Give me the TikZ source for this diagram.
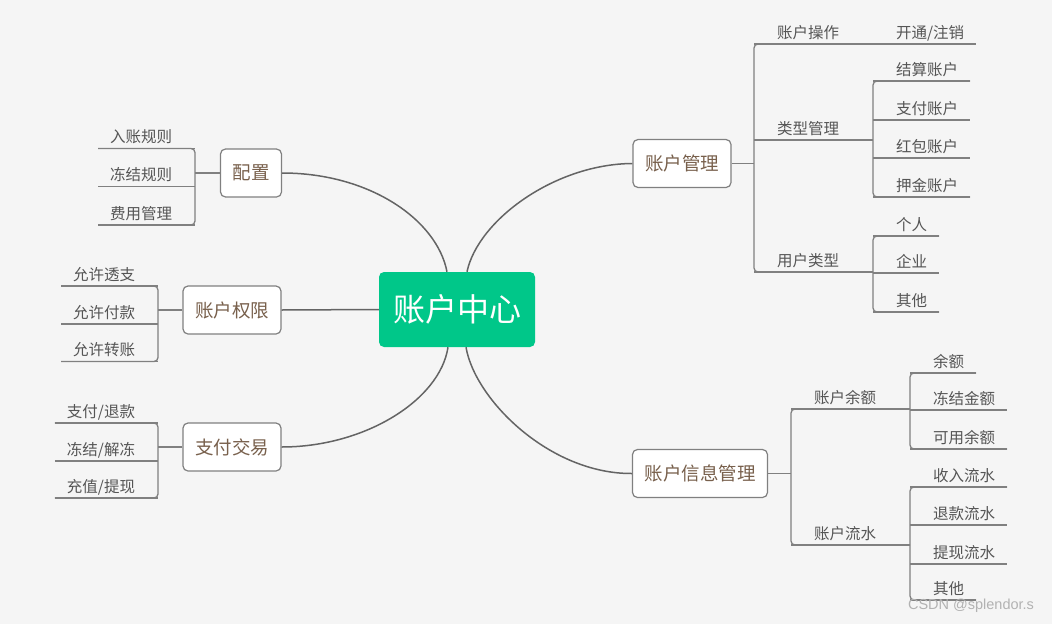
\documentclass[tikz,border=0pt]{standalone}
\usepackage{fontspec}
\setmainfont{Noto Sans CJK SC}
\newfontfamily\markfont{Liberation Sans}
\usepackage{xcolor}
\usepackage{tikz}
\definecolor{bgpaper}{RGB}{245,245,245}
\definecolor{hubgreen}{RGB}{0,199,137}
\definecolor{topicbrown}{RGB}{120,96,76}
\definecolor{leafgray}{RGB}{85,85,85}
\definecolor{stemgray}{RGB}{128,128,128}
\definecolor{curvegray}{RGB}{100,100,100}

\begin{document}
\begin{tikzpicture}[x=1pt, y=-1pt]

    % --- 1. Background (light grey paper) ---
    \fill[bgpaper] (0,0) rectangle (1052,624);
    \useasboundingbox (0,0) rectangle (1052,624);

    % --- 2. Hub and main topics ---
    \tikzset{hub/.style={fill=hubgreen, rounded corners=5pt, text=white, font=\fontsize{32}{36}\selectfont, minimum width=156pt, minimum height=75pt}}
    \tikzset{topic/.style={draw=stemgray, line width=1.2pt, fill=white, rounded corners=5pt, text=topicbrown, font=\fontsize{18.5}{21}\selectfont, inner xsep=12pt, minimum height=48pt}}
    \node[hub] (n-hub) at (457,309.5) {账户中心};
    \node[topic] (n-config) at (251,173) {配置};
    \node[topic] (n-perm) at (232,310) {账户权限};
    \node[topic] (n-trade) at (232,447) {支付交易};
    \node[topic] (n-acc) at (682,163.5) {账户管理};
    \node[topic] (n-info) at (700,473.5) {账户信息管理};

    % --- 3. Branches from the hub (grey curves) ---
    \tikzset{branch/.style={curvegray, line width=1.5pt}}
    \draw[branch] (n-config.east) .. controls (370,173) and (437,220) .. ([xshift=-10pt]n-hub.north);
    \draw[branch] (n-acc.west) .. controls (555,164) and (478,220) .. ([xshift=10pt]n-hub.north);
    \draw[branch] (n-perm.east) -- (n-hub.west);
    \draw[branch] (n-trade.east) .. controls (365,447) and (440,400) .. ([xshift=-9pt]n-hub.south);
    \draw[branch] (n-info.west) .. controls (550,474) and (475,400) .. ([xshift=9pt]n-hub.south);

    % --- 4. Leaves (text sitting on an underline, wider gap on the bracket side) ---
    \tikzset{leaf/.style={font=\fontsize{15.5}{18}\selectfont, text=leafgray, inner xsep=12pt, inner ysep=4pt, text height=12pt, text depth=2pt, outer sep=0pt},
             leafL/.style={leaf, anchor=south east, execute at end node={\hspace*{11pt}}},
             leafR/.style={leaf, anchor=south west, execute at begin node={\hspace*{11pt}}},
             sub/.style={leaf, anchor=south west, minimum width=119pt, execute at end node={\hspace*{11pt}}},
             stem/.style={stemgray, line width=1.3pt}}

    % left: 配置
    \node[leafL] (n-rule-in) at (195,148.5) {入账规则};
    \node[leafL] (n-rule-freeze) at (195,186.5) {冻结规则};
    \node[leafL] (n-fee) at (195,225) {费用管理};
    % left: 账户权限
    \node[leafL] (n-allow-overdraft) at (158,286) {允许透支};
    \node[leafL] (n-allow-pay) at (158,324) {允许付款};
    \node[leafL] (n-allow-transfer) at (158,361.5) {允许转账};
    % left: 支付交易
    \node[leafL] (n-pay-refund) at (158,423) {支付/退款};
    \node[leafL] (n-freeze-thaw) at (158,461) {冻结/解冻};
    \node[leafL] (n-topup-withdraw) at (158,498) {充值/提现};

    % right: 账户管理
    \node[sub] (n-acc-op) at (754,44) {账户操作};
    \node[sub] (n-acc-type) at (754,140) {类型管理};
    \node[sub] (n-acc-user) at (754,272) {用户类型};
    \node[leafR] (n-open) at (873,44) {开通/注销};
    \node[leafR] (n-settle) at (873,81) {结算账户};
    \node[leafR] (n-payacc) at (873,120) {支付账户};
    \node[leafR] (n-redpack) at (873,158) {红包账户};
    \node[leafR] (n-deposit) at (873,197) {押金账户};
    \node[leafR] (n-personal) at (873,236) {个人};
    \node[leafR] (n-company) at (873,273) {企业};
    \node[leafR] (n-user-other) at (873,312) {其他};

    % right: 账户信息管理
    \node[sub] (n-bal) at (791,409) {账户余额};
    \node[sub] (n-flow) at (791,545) {账户流水};
    \node[leafR] (n-balance) at (910,373) {余额};
    \node[leafR] (n-frozen) at (910,410) {冻结金额};
    \node[leafR] (n-avail) at (910,449) {可用余额};
    \node[leafR] (n-income) at (910,487) {收入流水};
    \node[leafR] (n-refund) at (910,525) {退款流水};
    \node[leafR] (n-withdraw) at (910,564) {提现流水};
    \node[leafR] (n-flow-other) at (910,600) {其他};

    % underlines of all leaves
    \foreach \n in {n-rule-in,n-rule-freeze,n-fee,n-allow-overdraft,n-allow-pay,n-allow-transfer,
                    n-pay-refund,n-freeze-thaw,n-topup-withdraw,n-acc-op,n-acc-type,n-acc-user,
                    n-open,n-settle,n-payacc,n-redpack,n-deposit,n-personal,n-company,n-user-other,
                    n-bal,n-flow,n-balance,n-frozen,n-avail,n-income,n-refund,n-withdraw,n-flow-other}
        \draw[stem] (\n.south west) -- (\n.south east);

    % --- 5. Brackets and short stems ---
    \draw[stem, rounded corners=4pt] (n-rule-in.south west) -- (n-rule-in.south east) -- (n-fee.south east) -- (n-fee.south west);
    \draw[stem] (n-config.west) -- (n-config.west -| n-rule-in.south east);
    \draw[stem, rounded corners=4pt] (n-allow-overdraft.south west) -- (n-allow-overdraft.south east) -- (n-allow-transfer.south east) -- (n-allow-transfer.south west);
    \draw[stem] (n-perm.west) -- (n-perm.west -| n-allow-pay.south east);
    \draw[stem, rounded corners=4pt] (n-pay-refund.south west) -- (n-pay-refund.south east) -- (n-topup-withdraw.south east) -- (n-topup-withdraw.south west);
    \draw[stem] (n-trade.west) -- (n-trade.west -| n-freeze-thaw.south east);

    \draw[stem, rounded corners=4pt] (n-acc-op.south east) -- (n-acc-op.south west) -- (n-acc-user.south west) -- (n-acc-user.south east);
    \draw[stem] (n-acc.east) -- (n-acc.east -| n-acc-op.south west);
    \draw[stem, rounded corners=4pt] (n-settle.south east) -- (n-settle.south west) -- (n-deposit.south west) -- (n-deposit.south east);
    \draw[stem, rounded corners=4pt] (n-personal.south east) -- (n-personal.south west) -- (n-user-other.south west) -- (n-user-other.south east);

    \draw[stem, rounded corners=4pt] (n-bal.south east) -- (n-bal.south west) -- (n-flow.south west) -- (n-flow.south east);
    \draw[stem] (n-info.east) -- (n-info.east -| n-bal.south west);
    \draw[stem, rounded corners=4pt] (n-balance.south east) -- (n-balance.south west) -- (n-avail.south west) -- (n-avail.south east);
    \draw[stem, rounded corners=4pt] (n-income.south east) -- (n-income.south west) -- (n-flow-other.south west) -- (n-flow-other.south east);

    % --- 6. Watermark ---
    \node[font=\markfont\fontsize{14.5}{16}\selectfont, text=gray!60] (n-mark) at (971,606) {CSDN @splendor.s};

\end{tikzpicture}
\end{document}
